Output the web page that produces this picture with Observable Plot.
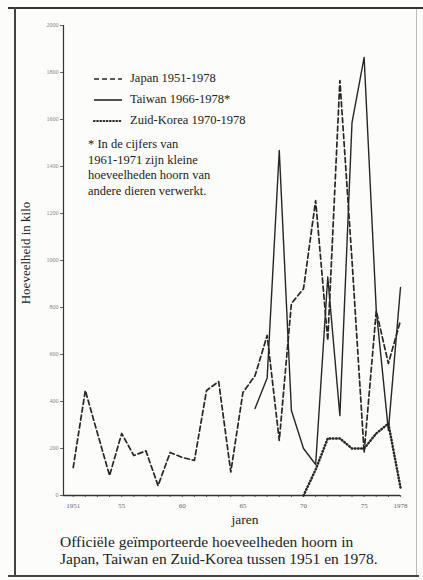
<!DOCTYPE html>
<html><head><meta charset="utf-8">
<script src="https://cdn.jsdelivr.net/npm/d3@7"></script>
<script src="https://cdn.jsdelivr.net/npm/@observablehq/plot@0.6"></script>
<style>
body{margin:0;background:#fff;}
#wrap{position:relative;width:423px;height:580px;overflow:hidden;font-family:"Liberation Serif","DejaVu Serif",serif;color:#222;background:#fcfcfb;}
#wrap svg.plot{position:absolute;left:0;top:0;background:transparent;}
.t{position:absolute;white-space:nowrap;line-height:1;font-family:"Liberation Serif","DejaVu Serif",serif;}
.border-top{position:absolute;left:8px;right:0;top:7px;height:2px;background:#333;}
.border-left{position:absolute;left:14px;top:7px;bottom:3px;width:1.5px;background:#444;}
.border-bottom{position:absolute;left:8px;right:4px;bottom:3px;height:2px;background:#444;}
.border-right{position:absolute;right:6px;top:9px;bottom:5px;width:1px;background:#bbb;}
.leg{position:absolute;left:93px;display:flex;align-items:center;font-size:12.5px;font-family:"Liberation Serif","DejaVu Serif",serif;}
.leg svg{margin-right:7px;}
</style></head><body><div id="wrap"></div>
<script>
// ---- data ----
const japanYears = [1951,1952,1953,1954,1955,1956,1957,1958,1959,1960,1961,1962,1963,1964,1965,1966,1967,1968,1969,1970,1971,1972,1973,1974,1975,1976,1977,1978];
const japanValues = [119,447,265,85,264,170,190,42,183,162,149,447,485,100,438,510,681,234,817,880,1255,660,1766,1000,183,785,562,745];
const taiwanYears = [1966,1967,1968,1969,1970,1971,1972,1973,1974,1975,1976,1977,1978];
const taiwanValues = [370,500,1468,362,200,132,930,340,1587,1864,790,277,885];
const koreaYears = [1970,1971,1972,1973,1974,1975,1976,1977,1978];
const koreaValues = [0,110,243,243,200,200,264,306,34];
const yTicks = [0,200,400,600,800,1000,1200,1400,1600,1800,2000];
const xTickYears = [1951,1955,1960,1965,1970,1975,1978];
const xTickLabels = ["1951","55","60","65","70","75","1978"];
const minorYears = japanYears;
const xDomain = [1950.2, 1978];
const yDomain = [0, 2000];

const japan = japanYears.map((year,i)=>({year, value: japanValues[i]}));
const taiwan = taiwanYears.map((year,i)=>({year, value: taiwanValues[i]}));
const korea = koreaYears.map((year,i)=>({year, value: koreaValues[i]}));
const xLabel = new Map(xTickYears.map((y,i)=>[y, xTickLabels[i]]));

const ink = "#262626";
const plot = Plot.plot({
  width: 423, height: 580,
  marginLeft: 63, marginRight: 23, marginTop: 25, marginBottom: 85,
  style: {fontFamily: '"Liberation Serif", serif', background: "transparent"},
  x: {domain: xDomain},
  y: {domain: yDomain},
  marks: [
    Plot.axisY({ticks: yTicks, tickSize: 3, tickPadding: 2, fontSize: 6, fill: "#8a8a8a", stroke: "#666", label: null, tickFormat: d => String(d)}),
    Plot.axisX({ticks: minorYears, tickSize: 2, tickFormat: () => "", stroke: "#666", label: null}),
    Plot.axisX({ticks: xTickYears, tickSize: 0, tickPadding: 8, fontSize: 7, fill: "#666", label: null, tickFormat: d => xLabel.get(d)}),
    Plot.ruleY([yDomain[0]], {stroke: "#333", strokeWidth: 1.3}),
    Plot.ruleX([xDomain[0]], {y1: yDomain[0], y2: yDomain[1], stroke: "#333", strokeWidth: 1.2}),
    Plot.line(korea, {x: "year", y: "value", stroke: ink, strokeWidth: 2.5, strokeDasharray: "0.6,2.6", strokeLinecap: "round"}),
    Plot.line(taiwan, {x: "year", y: "value", stroke: ink, strokeWidth: 1.4}),
    Plot.line(japan, {x: "year", y: "value", stroke: ink, strokeWidth: 1.7, strokeDasharray: "5,3"})
  ]
});
plot.classList.add("plot");
const wrap = document.getElementById("wrap");
wrap.appendChild(plot);

function add(html){ wrap.insertAdjacentHTML("beforeend", html); }
add('<div class="border-top"></div><div class="border-left"></div><div class="border-bottom"></div><div class="border-right"></div>');

const legendItems = [
  {label: "Japan 1951-1978", dash: "5,3", w: 1.6, cap: "butt", top: 71},
  {label: "Taiwan 1966-1978*", dash: "none", w: 1.6, cap: "butt", top: 92},
  {label: "Zuid-Korea 1970-1978", dash: "0.6,2.6", w: 2.2, cap: "round", top: 113}
];
legendItems.forEach(it => {
  add(`<div class="leg" style="top:${it.top}px"><svg width="30" height="12"><line x1="1" y1="6" x2="29" y2="6" stroke="${ink}" stroke-width="${it.w}" stroke-dasharray="${it.dash}" stroke-linecap="${it.cap}"/></svg><span>${it.label}</span></div>`);
});
const note = ["* In de cijfers van","1961-1971 zijn kleine","hoeveelheden hoorn van","andere dieren verwerkt."];
note.forEach((s,i)=> add(`<div class="t" style="left:88px;top:${138 + i*15.5}px;font-size:12.5px">${s}</div>`));

add('<div class="t" style="left:25px;top:253px;font-size:13px;transform:translate(-50%,-50%) rotate(-90deg);transform-origin:center">Hoeveelheid in kilo</div>');
add('<div class="t" style="left:245px;top:513px;font-size:13.5px;transform:translateX(-50%)">jaren</div>');
add('<div class="t" style="left:60px;top:534px;font-size:15.5px">Officiële geïmporteerde hoeveelheden hoorn in</div>');
add('<div class="t" style="left:60px;top:551px;font-size:15.5px">Japan, Taiwan en Zuid-Korea tussen 1951 en 1978.</div>');
</script></body></html>
